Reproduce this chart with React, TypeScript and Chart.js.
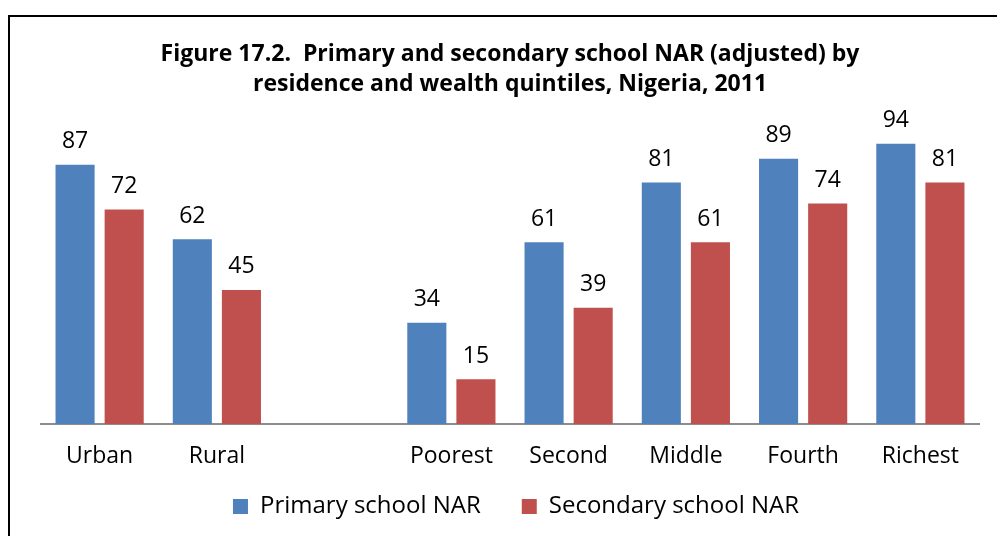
import React, { useEffect, useRef } from "react";
import { Chart, registerables } from "chart.js";

Chart.register(...registerables);

const categories = ["Urban", "Rural", "", "Poorest", "Second", "Middle", "Fourth", "Richest"];
const primaryNAR: (number | null)[] = [87, 62, null, 34, 61, 81, 89, 94];
const secondaryNAR: (number | null)[] = [72, 45, null, 15, 39, 61, 74, 81];
const seriesNames = ["Primary school NAR", "Secondary school NAR"];
const titleLines = [
  "Figure 17.2.  Primary and secondary school NAR (adjusted) by",
  "residence and wealth quintiles, Nigeria, 2011",
];

const FONT = "'Open Sans', 'DejaVu Sans', sans-serif";
const BLUE = "#4F81BD";
const RED = "#C0504D";
const LEGEND_PAD = 41;
const LEGEND_LIFT = 36;
const LEGEND_SHIFT_X = 6;

const valueLabels = {
  id: "valueLabels",
  afterDatasetsDraw(chart: any) {
    const ctx = chart.ctx;
    ctx.save();
    ctx.font = `23px ${FONT}`;
    ctx.fillStyle = "#000";
    ctx.textAlign = "center";
    ctx.textBaseline = "middle";
    chart.data.datasets.forEach((ds: any, i: number) => {
      const meta = chart.getDatasetMeta(i);
      meta.data.forEach((el: any, j: number) => {
        const v = ds.data[j];
        if (v === null || v === undefined) return;
        ctx.fillText(String(v), el.x, el.y - 23);
      });
    });
    ctx.restore();
  },
};

// Legend padding is large to space the two items apart horizontally;
// lift the legend box so its vertical gap stays small.
const legendLift = {
  id: "legendLift",
  afterLayout(chart: any) {
    const lg = chart.legend;
    if (!lg) return;
    lg.top -= LEGEND_LIFT;
    lg.bottom -= LEGEND_LIFT;
    lg.left += LEGEND_SHIFT_X;
    lg.right += LEGEND_SHIFT_X;
  },
};

export default function App() {
  const ref = useRef<HTMLCanvasElement | null>(null);
  useEffect(() => {
    document.body.style.overflow = "hidden";
    const chart = new Chart(ref.current as HTMLCanvasElement, {
      type: "bar",
      data: {
        labels: categories,
        datasets: [
          {
            label: seriesNames[0],
            data: primaryNAR,
            backgroundColor: BLUE,
            categoryPercentage: 0.8376,
            barPercentage: 0.796,
          },
          {
            label: seriesNames[1],
            data: secondaryNAR,
            backgroundColor: RED,
            categoryPercentage: 0.8376,
            barPercentage: 0.796,
          },
        ],
      },
      options: {
        responsive: false,
        animation: false,
        layout: { padding: { left: 41, right: 18, top: 0, bottom: -28.6 } },
        scales: {
          x: {
            grid: { display: false, drawTicks: false },
            border: { display: true, color: "#8c8c8c", width: 2 },
            ticks: {
              color: "#000",
              font: { family: FONT, size: 23, lineHeight: 1.2 },
              padding: 19,
              maxRotation: 0,
            },
          },
          y: {
            display: false,
            min: 0,
            max: 100,
          },
        },
        plugins: {
          title: {
            display: true,
            text: titleLines,
            color: "#000",
            font: { family: FONT, size: 23, weight: "bold", lineHeight: 1.304 },
            padding: { top: 39, bottom: 27 },
          },
          legend: {
            display: true,
            position: "bottom",
            labels: {
              color: "#000",
              font: { family: FONT, size: 24 },
              boxWidth: 15,
              boxHeight: 15,
              padding: LEGEND_PAD,
            },
          },
          tooltip: { enabled: false },
        },
      },
      plugins: [valueLabels, legendLift],
    });
    return () => chart.destroy();
  }, []);
  return (
    <div>
      <div
        style={{
          position: "fixed",
          left: 8,
          top: 15,
          width: 1010,
          height: 560,
          border: "2px solid #000",
          boxSizing: "border-box",
          background: "#fff",
        }}
      />
      <canvas
        ref={ref}
        width={997}
        height={536}
        style={{ position: "fixed", left: 0, top: 0, display: "block" }}
      />
    </div>
  );
}
